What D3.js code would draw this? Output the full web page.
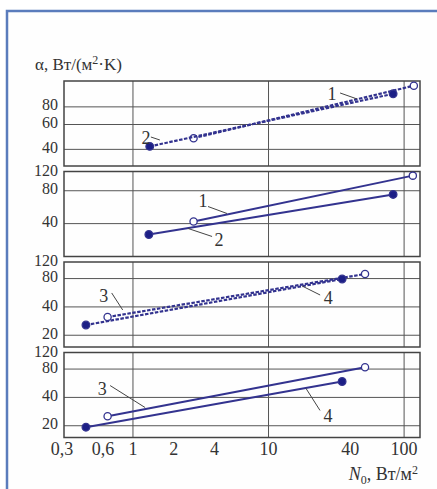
<!DOCTYPE html>
<head>
  <meta charset="utf-8">
  <style>
    body { margin: 0; background: #fff; }
    svg text { font-family: "Liberation Serif", "DejaVu Serif", serif; fill: #333; }
    svg .grid { stroke: #555; stroke-width: 1px; }
    svg .frame { fill: none; stroke: #444; stroke-width: 1.5px; }
    svg .line { fill: none; stroke: #33338f; stroke-width: 2px; }
    svg .leader { fill: none; stroke: #444; stroke-width: 1px; }
  </style>
</head>
<body>
<script src="https://d3js.org/d3.v7.min.js"></script>
<script>
  // x ticks (N0, W/m2)
  var xTicks = [0.3, 0.6, 1, 2, 4, 10, 40, 100];
  var xGrid = [1, 10, 100];

  // y range and ticks for each of the 4 panels
  var yDomains = [[30.5, 122], [20, 120], [15, 120], [15, 120]];
  var yTicks = [[80, 60, 40], [120, 80, 40], [120, 80, 40, 20], [120, 80, 40, 20]];
  var yGrid = [[80, 60, 40], [80, 40], [80, 40, 20], [80, 40, 20]];
  var dashed = [true, false, true, false];

  // series: panel, name, open marker?, x values, y values
  var series = [
    { panel: 0, name: "1", open: true,  x: [2.8, 118],   y: [48, 113] },
    { panel: 0, name: "2", open: false, x: [1.33, 83],   y: [42, 99] },
    { panel: 1, name: "1", open: true,  x: [2.8, 116],   y: [41.8, 110] },
    { panel: 1, name: "2", open: false, x: [1.31, 83],   y: [31.8, 74] },
    { panel: 2, name: "3", open: true,  x: [0.65, 51.5], y: [31.2, 89.4] },
    { panel: 2, name: "4", open: false, x: [0.45, 34.9], y: [25.7, 79.2] },
    { panel: 3, name: "3", open: true,  x: [0.65, 51.5], y: [25.2, 83.6] },
    { panel: 3, name: "4", open: false, x: [0.45, 34.9], y: [19.3, 59] }
  ];

  // curve labels: where the leader touches the line (data units)
  var labelPanel = [0, 0, 1, 1, 2, 2, 3, 3];
  var labelText  = ["1", "2", "1", "2", "3", "4", "3", "4"];
  var labelX     = [45, 1.58, 4.94, 2.55, 0.84, 17.7, 1.23, 18.9];
  var labelY     = [91, 46.6, 49.5, 36.1, 37.1, 66.7, 31.2, 49.8];
  // leader start and text centre, pixel offsets from that point
  var leadOff = [[-17, -6], [-9, -3], [-19, -7], [24, 8], [-11, -17], [18, 9], [-35, -22], [14, 22]];
  var textOff = [[-25, -5], [-14, -2], [-24, -13], [31, 11], [-19, -14], [26, 12], [-43, -19], [22, 27]];

  var W = 437, H = 489;
  var plotLeft = 64, plotRight = 420;
  var panelTop = [81, 171.5, 262, 352.5], panelH = 85;

  var svg = d3.select("body").append("svg")
      .attr("width", W)
      .attr("height", H);

  // blue outer frame
  svg.append("rect")
      .attr("x", 7).attr("y", 11)
      .attr("width", W).attr("height", H)
      .style("fill", "#fefefe")
      .style("stroke", "#5a7cbc")
      .style("stroke-width", "2.5px");

  var xScale = d3.scaleLog().domain([0.31, 131]).range([plotLeft, plotRight]);

  var yScales = yDomains.map(function (d, i) {
    return d3.scaleLog().domain(d).range([panelTop[i] + panelH, panelTop[i]]);
  });

  var fmt = function (v) { return String(v).replace(".", ","); };

  yScales.forEach(function (ys, i) {
    var g = svg.append("g");

    g.selectAll("line.h").data(yGrid[i]).enter()
      .append("line").classed("grid", true)
        .attr("x1", plotLeft).attr("x2", plotRight)
        .attr("y1", function (d) { return ys(d); })
        .attr("y2", function (d) { return ys(d); });

    g.selectAll("line.v").data(xGrid).enter()
      .append("line").classed("grid", true)
        .attr("x1", function (d) { return xScale(d); })
        .attr("x2", function (d) { return xScale(d); })
        .attr("y1", panelTop[i]).attr("y2", panelTop[i] + panelH);

    g.append("rect").classed("frame", true)
        .attr("x", plotLeft).attr("y", panelTop[i])
        .attr("width", plotRight - plotLeft).attr("height", panelH);

    // labels sit a little above their line, as in the original
    g.selectAll("text.yt").data(yTicks[i]).enter()
      .append("text")
        .attr("x", 58)
        .attr("y", function (d) { return ys(d) + (d === 120 ? -1.5 : -2); })
        .attr("dy", "0.35em")
        .style("text-anchor", "end")
        .style("font-size", "16px")
        .text(function (d) { return d; });
  });

  // series lines + markers
  series.forEach(function (s) {
    var ys = yScales[s.panel];
    var pts = s.x.map(function (v, k) { return [xScale(v), ys(s.y[k])]; });
    svg.append("path").classed("line", true)
        .attr("d", d3.line()(pts))
        .style("stroke-dasharray", dashed[s.panel] ? "3.5,1.5" : null)
        .style("stroke-width", dashed[s.panel] ? "2.2px" : "2px");
    svg.selectAll(null).data(pts).enter()
      .append("circle")
        .attr("cx", function (d) { return d[0]; })
        .attr("cy", function (d) { return d[1]; })
        .attr("r", s.open ? 3.6 : 3.8)
        .style("fill", s.open ? "#fff" : "#1c1f86")
        .style("stroke", "#33338f")
        .style("stroke-width", "1.3px");
  });

  // curve numbers with leaders
  labelText.forEach(function (t, i) {
    var px = xScale(labelX[i]), py = yScales[labelPanel[i]](labelY[i]);
    svg.append("line").classed("leader", true)
        .attr("x1", px).attr("y1", py)
        .attr("x2", px + leadOff[i][0]).attr("y2", py + leadOff[i][1]);
    svg.append("text")
        .attr("x", px + textOff[i][0])
        .attr("y", py + textOff[i][1])
        .attr("dy", "0.35em")
        .style("text-anchor", "middle")
        .style("font-size", "18px")
        .text(t);
  });

  // x tick labels
  svg.selectAll("text.xt").data(xTicks).enter()
    .append("text")
      .attr("x", function (d) { return xScale(d); })
      .attr("y", 455)
      .style("text-anchor", "middle")
      .style("font-size", "18px")
      .text(fmt);

  // axis titles
  var yt = svg.append("text")
      .attr("x", 35).attr("y", 70)
      .style("font-size", "17px");
  yt.append("tspan").text("α, Вт/(м");
  yt.append("tspan").attr("dy", -6).style("font-size", "12px").text("2");
  yt.append("tspan").attr("dy", 6).text("·K)");

  var xt = svg.append("text")
      .attr("x", 418).attr("y", 480)
      .style("text-anchor", "end")
      .style("font-size", "18px");
  xt.append("tspan").style("font-style", "italic").text("N");
  xt.append("tspan").attr("dy", 4).style("font-size", "12px").text("0");
  xt.append("tspan").attr("dy", -4).text(", Вт/м");
  xt.append("tspan").attr("dy", -6).style("font-size", "12px").text("2");
</script>
</body>
</html>
